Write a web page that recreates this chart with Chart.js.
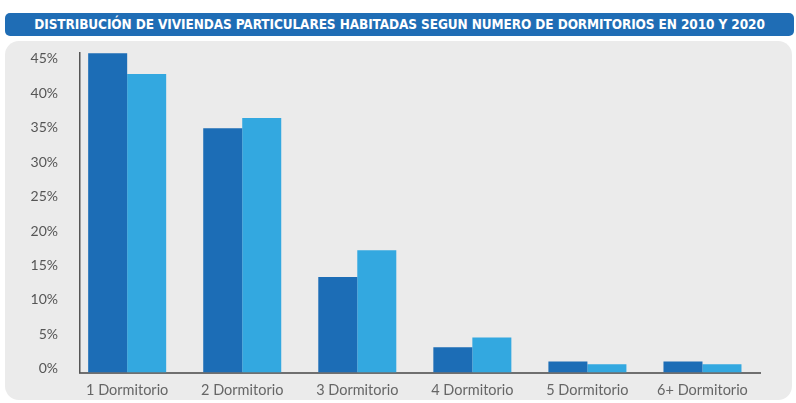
<!DOCTYPE html>
<html>
<head>
<meta charset="utf-8">
<script src="https://cdn.jsdelivr.net/npm/chart.js@4.4.0/dist/chart.umd.min.js"></script>
<style>
    html, body { margin: 0; padding: 0; background: #fff; }
    #wrap { position: relative; width: 796px; height: 403px; overflow: hidden; }
    #titleBar {
        position: absolute; left: 5px; top: 13px; width: 789px; height: 23px;
        background: #1f6db5; border-radius: 5px;
        color: #fff; font-family: 'DejaVu Sans Condensed', 'DejaVu Sans', sans-serif;
        font-size: 13.5px; font-weight: 600; line-height: 23px; text-align: center;
        letter-spacing: -0.1px;
    }
    #panel {
        position: absolute; left: 5px; top: 41px; width: 787px; height: 359px;
        background: #ebebeb; border-radius: 14px;
    }
    #chart { position: absolute; left: 0; top: 0; }
</style>
</head>
<body>
<div id="wrap">
    <div id="titleBar">DISTRIBUCIÓN DE VIVIENDAS PARTICULARES HABITADAS SEGUN NUMERO DE DORMITORIOS EN 2010 Y 2020</div>
    <div id="panel"></div>
    <canvas id="chart" width="796" height="403"></canvas>
</div>
<script>
const categories = ['1 Dormitorio', '2 Dormitorio', '3 Dormitorio', '4 Dormitorio', '5 Dormitorio', '6+ Dormitorio'];
const values2010 = [46.4, 35.5, 13.9, 3.7, 1.6, 1.6];
const values2020 = [43.4, 37.0, 17.8, 5.1, 1.2, 1.2];
const yTicks = [0, 5, 10, 15, 20, 25, 30, 35, 40, 45];

const toPoints = arr => arr.map((v, i) => ({ x: i, y: v }));

const ctx = document.getElementById('chart').getContext('2d');
new Chart(ctx, {
    type: 'bar',
    data: {
        datasets: [
            {
                label: '2010',
                data: toPoints(values2010),
                backgroundColor: '#1c6db6',
                categoryPercentage: 0.678,
                barPercentage: 1.0
            },
            {
                label: '2020',
                data: toPoints(values2020),
                backgroundColor: '#33a8e0',
                categoryPercentage: 0.678,
                barPercentage: 1.0
            }
        ]
    },
    options: {
        responsive: false,
        animation: false,
        layout: { padding: { left: 0, right: 36, top: 53, bottom: 0 } },
        plugins: {
            legend: { display: false },
            tooltip: { enabled: false }
        },
        scales: {
            x: {
                type: 'linear',
                min: -0.41,
                max: 5.5,
                offset: false,
                grid: { display: false, drawTicks: false, offset: false },
                border: { display: true, color: '#6f6f6f', width: 2 },
                afterBuildTicks: scale => { scale.ticks = categories.map((c, i) => ({ value: i })); },
                afterFit: scale => { scale.height = 29; },
                ticks: {
                    autoSkip: false,
                    maxRotation: 0,
                    padding: 9,
                    color: '#666',
                    font: { family: 'Lato', size: 14.5 },
                    callback: v => categories[v]
                }
            },
            y: {
                min: 0,
                max: 46.45,
                grid: { display: false, drawTicks: false },
                border: { display: true, color: '#555', width: 1.5 },
                afterBuildTicks: scale => { scale.ticks = yTicks.map(v => ({ value: v })); },
                afterFit: scale => { scale.width = 80; },
                ticks: {
                    padding: 22,
                    labelOffset: -4,
                    color: '#555',
                    font: { family: 'Lato', size: 14 },
                    callback: v => v + '%'
                }
            }
        }
    }
});
</script>
</body>
</html>
